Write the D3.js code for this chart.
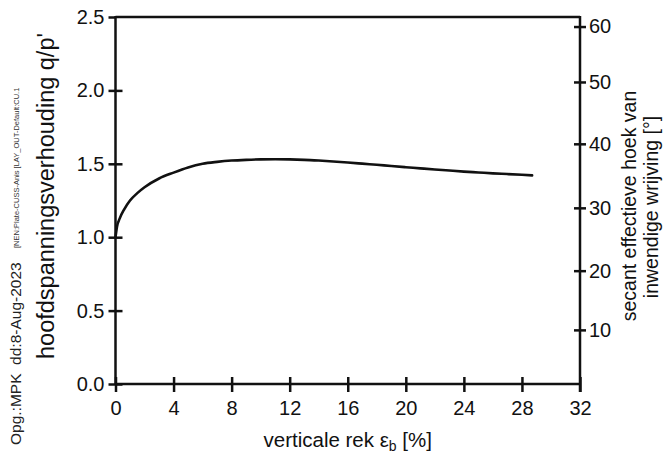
<!DOCTYPE html>
<html>
<head>
<meta charset="utf-8">
<script src="https://cdn.jsdelivr.net/npm/d3@7"></script>
<style>
  html, body { margin: 0; padding: 0; background: #fff; }
  svg { display: block; font-family: "Liberation Sans", Arial, sans-serif; }
  .pre { white-space: pre; }
</style>
</head>
<body>
<svg id="chart" width="665" height="456"></svg>
<script>
// ---- data ----
const strain = [0, 0.1, 0.3, 0.6, 1.0, 1.5, 2.0, 3.0, 4.0, 5.0, 6.0, 7.0, 8.0, 9.0, 10.0, 11.0, 12.0, 13.0, 14.0, 15.0, 16.0, 17.0, 18.0, 19.0, 20.0, 21.0, 22.0, 23.0, 24.0, 25.0, 26.0, 27.0, 28.0, 28.7];
const ratio  = [1.00, 1.07, 1.13, 1.19, 1.25, 1.30, 1.34, 1.40, 1.44, 1.475, 1.50, 1.513, 1.522, 1.527, 1.530, 1.531, 1.530, 1.527, 1.522, 1.516, 1.509, 1.501, 1.493, 1.485, 1.477, 1.469, 1.461, 1.454, 1.447, 1.441, 1.435, 1.430, 1.425, 1.421];
const xTicks = [0, 4, 8, 12, 16, 20, 24, 28, 32];
const yTicks = [0.0, 0.5, 1.0, 1.5, 2.0, 2.5];
const phiTicks = [10, 20, 30, 40, 50, 60];
const xLabel = "verticale rek ";
const yLabel = "hoofdspanningsverhouding q/p'";
const rLabel1 = "secant effectieve hoek van";
const rLabel2 = "inwendige wrijving [°]";
const noteMain = "Opg.:MPK  dd:8-Aug-2023";
const noteSmall = "[NEN:Plate-CUSS-Anis [LAY_OUT-Default:CU.1";

// ---- layout ----
const svg = d3.select("#chart");
const L = 115.5, R = 580, T = 17, B = 384;
const ink = "#111";

const x = d3.scaleLinear().domain([0, 32]).range([L, R]);
const y = d3.scaleLinear().domain([0, 2.5]).range([B, T]);
// triaxial compression: sin(phi) = 3*eta / (6 + eta)  =>  eta = 6 sin / (3 - sin)
const phiToEta = p => { const s = Math.sin(p * Math.PI / 180); return 6 * s / (3 - s); };

// frame top line
svg.append("line").attr("x1", L).attr("x2", R).attr("y1", T).attr("y2", T)
  .attr("stroke", ink).attr("stroke-width", 2.5);

function styleAxis(g) {
  g.select(".domain").remove();
  g.selectAll(".tick line").attr("stroke", ink).attr("stroke-width", 2.5);
  g.selectAll(".tick text").attr("fill", ink).attr("font-size", 20);
}

// left axis
const gl = svg.append("g").attr("transform", `translate(${L},0)`)
  .call(d3.axisLeft(y).tickValues(yTicks).tickFormat(d3.format(".1f")).tickSize(7).tickPadding(4));
styleAxis(gl);
gl.selectAll(".tick line").attr("x2", -7).attr("x1", d => d === 2.5 ? 0 : 7);
gl.append("line").attr("y1", T - 1).attr("y2", B).attr("stroke", ink).attr("stroke-width", 2.5);

// bottom axis
const gb = svg.append("g").attr("transform", `translate(0,${B})`)
  .call(d3.axisBottom(x).tickValues(xTicks).tickFormat(d3.format("d")).tickSize(8).tickPadding(9));
styleAxis(gb);
gb.selectAll(".tick line").attr("y1", -7).attr("y2", 8);
gb.append("line").attr("x1", L).attr("x2", R).attr("stroke", ink).attr("stroke-width", 2.5);

// right axis (friction angle)
const gr = svg.append("g").attr("transform", `translate(${R},0)`)
  .call(d3.axisRight(y).tickValues(phiTicks.map(phiToEta)).tickFormat((d, i) => phiTicks[i]).tickSize(6).tickPadding(3));
styleAxis(gr);
gr.selectAll(".tick line").attr("x1", -6).attr("x2", 6);
gr.append("line").attr("y1", T - 1).attr("y2", B + 8).attr("stroke", ink).attr("stroke-width", 2.5);

// curve
const pts = strain.map((s, i) => [s, ratio[i]]);
svg.append("path").datum(pts)
  .attr("fill", "none").attr("stroke", ink).attr("stroke-width", 2.6)
  .attr("stroke-linejoin", "round").attr("stroke-linecap", "round")
  .attr("d", d3.line().x(d => x(d[0])).y(d => y(d[1])).curve(d3.curveMonotoneX));

// x title
const xt = svg.append("text").attr("x", (L + R) / 2 + 0).attr("y", 447)
  .attr("text-anchor", "middle").attr("font-size", 20.5).attr("fill", ink).attr("class", "pre");
xt.append("tspan").text(xLabel);
xt.append("tspan").text("ε");
xt.append("tspan").attr("font-size", 14).attr("dy", 4).text("b");
xt.append("tspan").attr("dy", -4).text(" [%]");

// left title
svg.append("text").attr("transform", "translate(54,196) rotate(-90)")
  .attr("text-anchor", "middle").attr("font-size", 23.5).attr("fill", ink).text(yLabel);

// right titles
svg.append("text").attr("transform", "translate(636,206) rotate(-90)")
  .attr("text-anchor", "middle").attr("font-size", 19.5).attr("fill", ink).text(rLabel1);
svg.append("text").attr("transform", "translate(658,207) rotate(-90)")
  .attr("text-anchor", "middle").attr("font-size", 19.5).attr("fill", ink).text(rLabel2);

// small notes
svg.append("text").attr("transform", "translate(21,445) rotate(-90)").attr("class", "pre")
  .attr("text-anchor", "start").attr("font-size", 15.5).attr("fill", "#222").text(noteMain);
svg.append("text").attr("transform", "translate(19,248) rotate(-90)")
  .attr("text-anchor", "start").attr("font-size", 7.5).attr("fill", "#333").text(noteSmall);
</script>
</body>
</html>
